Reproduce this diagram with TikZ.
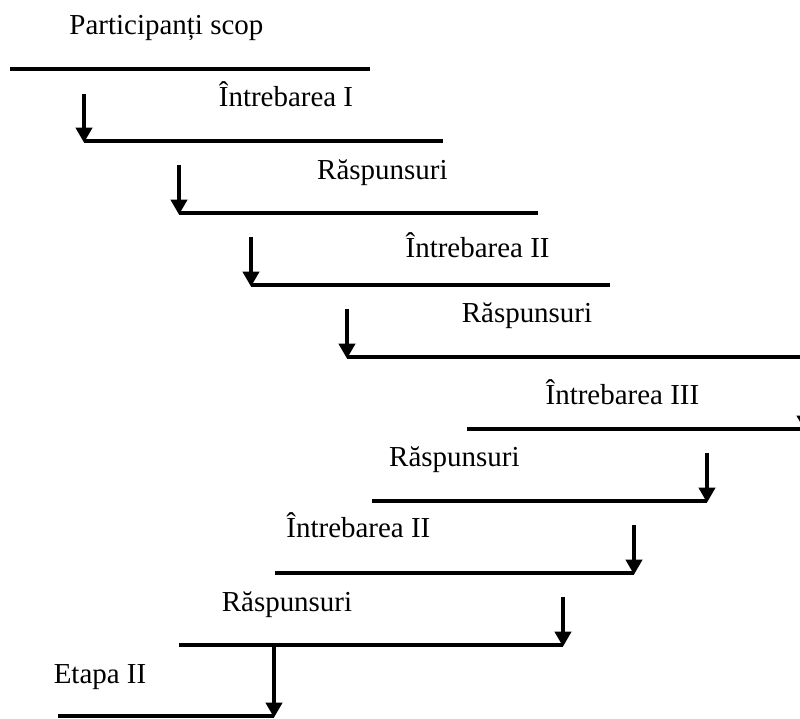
\documentclass[tikz,border=0pt]{standalone}
\usepackage{fontspec}
\setmainfont{Liberation Serif}
\usetikzlibrary{arrows.meta}

\begin{document}
\begin{tikzpicture}[
    lbl/.style={anchor=base, inner sep=0pt, font=\fontsize{20.6}{24}\selectfont},
    bar/.style={line width=2.8pt},
    arr/.style={line width=2.8pt, -{Triangle[width=0.4cm, length=0.375cm]}, shorten >=-1.2pt}
  ]

    \clip (0, 0) rectangle (20, 17.95);

    % steps: start and end of each line
    \coordinate (s0) at (0.25, 16.225);   \coordinate (e0) at (9.25, 16.225);
    \coordinate (s1) at (2.1, 14.425);    \coordinate (e1) at (11.075, 14.425);
    \coordinate (s2) at (4.475, 12.625);  \coordinate (e2) at (13.45, 12.625);
    \coordinate (s3) at (6.275, 10.825);  \coordinate (e3) at (15.25, 10.825);
    \coordinate (s4) at (8.675, 9.025);   \coordinate (e4) at (20.25, 9.025);
    \coordinate (s5) at (11.675, 7.225);  \coordinate (e5) at (20.125, 7.225);
    \coordinate (s6) at (9.3, 5.425);     \coordinate (e6) at (17.675, 5.425);
    \coordinate (s7) at (6.875, 3.625);   \coordinate (e7) at (15.85, 3.625);
    \coordinate (s8) at (4.475, 1.825);   \coordinate (e8) at (14.075, 1.825);
    \coordinate (s9) at (1.45, 0.05);     \coordinate (e9) at (6.85, 0.05);

    \path[draw, bar] (s0) to (e0);
    \path[draw, bar] (s1) to (e1);
    \path[draw, bar] (s2) to (e2);
    \path[draw, bar] (s3) to (e3);
    \path[draw, bar] (s4) to (e4);
    \path[draw, bar] (s5) to (e5);
    \path[draw, bar] (s6) to (e6);
    \path[draw, bar] (s7) to (e7);
    \path[draw, bar] (s8) to (e8);
    \path[draw, bar] (s9) to (e9);

    % arrow tops
    \coordinate (t1) at (2.1, 15.6);
    \coordinate (t2) at (4.475, 13.825);
    \coordinate (t3) at (6.275, 12.025);
    \coordinate (t4) at (8.675, 10.225);
    \coordinate (t5) at (20.125, 8.4);
    \coordinate (t6) at (17.675, 6.625);
    \coordinate (t7) at (15.85, 4.825);
    \coordinate (t8) at (14.075, 3.025);
    \coordinate (t9) at (6.85, 1.825);

    \path[draw, arr] (t1) to (s1);
    \path[draw, arr] (t2) to (s2);
    \path[draw, arr] (t3) to (s3);
    \path[draw, arr] (t4) to (s4);
    \path[draw, arr] (t5) to (e5);
    \path[draw, arr] (t6) to (e6);
    \path[draw, arr] (t7) to (e7);
    \path[draw, arr] (t8) to (e8);
    \path[draw, arr] (t9) to (e9);

    \node[lbl] (p0) at (4.16, 17.075) {Participanți scop};
    \node[lbl] (q1) at (7.15, 15.275) {Întrebarea I};
    \node[lbl] (r1) at (9.56, 13.45) {Răspunsuri};
    \node[lbl] (q2) at (11.94, 11.5) {Întrebarea II};
    \node[lbl] (r2) at (13.175, 9.875) {Răspunsuri};
    \node[lbl] (q3) at (15.56, 7.825) {Întrebarea III};
    \node[lbl] (r3) at (11.36, 6.275) {Răspunsuri};
    \node[lbl] (q4) at (8.96, 4.5) {Întrebarea II};
    \node[lbl] (r4) at (7.175, 2.65) {Răspunsuri};
    \node[lbl] (et) at (2.5, 0.875) {Etapa II};

  \end{tikzpicture}
\end{document}
